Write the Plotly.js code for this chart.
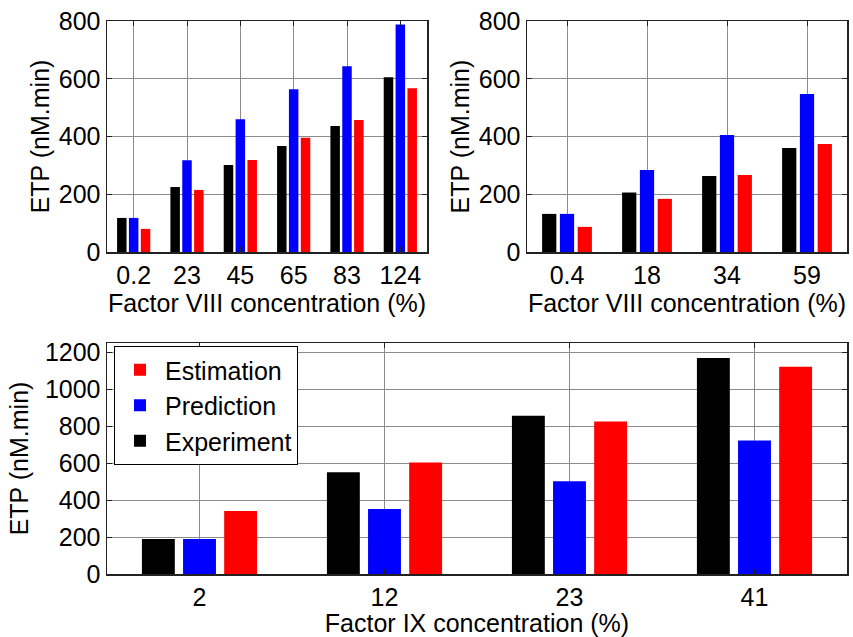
<!DOCTYPE html>
<html>
<head>
<meta charset="utf-8">
<script src="https://cdn.plot.ly/plotly-3.0.1.min.js"></script>
<style>html,body{margin:0;padding:0;background:#fff;}#chart{width:853px;height:637px;}</style>
</head>
<body>
<div id="chart"></div>
<script>
// ---- Data ----
const cat8a = ["0.2", "23", "45", "65", "83", "124"];
const exp8a = [118, 225, 301, 367, 436, 605];
const pred8a = [118, 318, 460, 564, 643, 788];
const est8a = [80, 215, 319, 396, 457, 567];

const cat8b = ["0.4", "18", "34", "59"];
const exp8b = [132, 206, 263, 360];
const pred8b = [132, 284, 405, 547];
const est8b = [87, 184, 267, 374];

const cat9 = ["2", "12", "23", "41"];
const exp9 = [190, 551, 857, 1169];
const pred9 = [190, 352, 502, 723];
const est9 = [341, 604, 825, 1121];

const names = ["Experiment", "Prediction", "Estimation"];
const colors = ["#000000", "#0000ff", "#ff0000"];

const FONT = "Liberation Sans, Arial, sans-serif";

function makeTraces(cats, series, xa, ya, showLeg) {
  return series.map((vals, i) => ({
    type: "bar",
    x: cats,
    y: vals,
    name: names[i],
    xaxis: xa,
    yaxis: ya,
    offsetgroup: String(i),
    marker: { color: colors[i], line: { width: 0 } },
    showlegend: showLeg,
    hoverinfo: "x+y+name"
  }));
}

const traces = [].concat(
  makeTraces(cat8a, [exp8a, pred8a, est8a], "x", "y", false),
  makeTraces(cat8b, [exp8b, pred8b, est8b], "x2", "y2", false),
  makeTraces(cat9, [exp9, pred9, est9], "x3", "y3", true)
);

const W = 853, H = 637;
function xd(a, b) { return [a / W, b / W]; }
function yd(top, bottom) { return [(H - bottom) / H, (H - top) / H]; }

function xAxis(dom, anchor, n, title) {
  return {
    domain: dom, anchor: anchor, type: "category",
    range: [-0.5, n - 0.5],
    showgrid: true, gridcolor: "#8c8c8c", gridwidth: 1,
    showline: true, linecolor: "#222", linewidth: 1.5, mirror: "ticks",
    ticks: "inside", ticklen: 5, tickcolor: "#222",
    tickfont: { family: FONT, size: 25, color: "#000" },
    title: { text: title, font: { family: FONT, size: 25, color: "#000" }, standoff: 0 },
    zeroline: false, automargin: false, fixedrange: true
  };
}
function yAxis(dom, anchor, range, dtick, std) {
  return {
    domain: dom, anchor: anchor, range: range, dtick: dtick,
    showgrid: true, gridcolor: "#8c8c8c", gridwidth: 1,
    showline: true, linecolor: "#222", linewidth: 1.5, mirror: "ticks",
    ticks: "inside", ticklen: 5, tickcolor: "#222",
    tickfont: { family: FONT, size: 25, color: "#000" },
    title: { text: "ETP (nM.min)", font: { family: FONT, size: 25, color: "#000" }, standoff: std },
    zeroline: false, automargin: false, fixedrange: true
  };
}

const layout = {
  width: W, height: H,
  margin: { l: 0, r: 0, t: 0, b: 0 },
  paper_bgcolor: "#fff", plot_bgcolor: "#fff",
  barmode: "group", bargap: 0.333, bargroupgap: 0.2,
  font: { family: FONT, size: 25, color: "#000" },
  xaxis: xAxis(xd(107, 427), "y", cat8a.length, "Factor VIII concentration (%)"),
  yaxis: yAxis(yd(21, 252), "x", [0, 800], 200, 2),
  xaxis2: xAxis(xd(527, 847), "y2", cat8b.length, "Factor VIII concentration (%)"),
  yaxis2: yAxis(yd(21, 252), "x2", [0, 800], 200, 2),
  xaxis3: xAxis(xd(107, 847), "y3", cat9.length, "Factor IX concentration (%)"),
  yaxis3: yAxis(yd(343, 574), "x3", [0, 1250], 200, 9),
  legend: {
    x: 114 / W, y: (H - 346) / H, xanchor: "left", yanchor: "top",
    traceorder: "reversed",
    bgcolor: "#fff", bordercolor: "#000", borderwidth: 1,
    font: { family: FONT, size: 25, color: "#000" },
    itemwidth: 40
  },
  showlegend: true
};

Plotly.newPlot("chart", traces, layout, { staticPlot: true, displayModeBar: false });
</script>
</body>
</html>
